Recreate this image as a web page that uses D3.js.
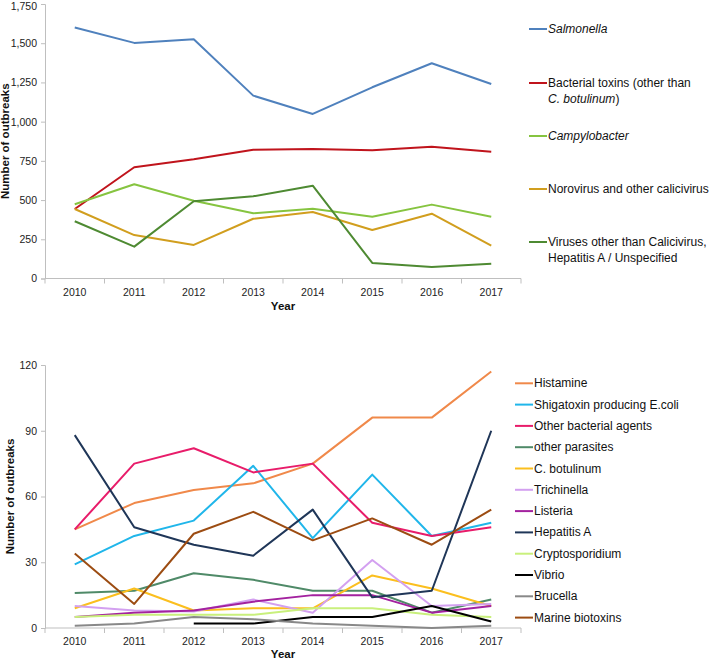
<!DOCTYPE html>
<html><head><meta charset="utf-8">
<script src="https://cdn.jsdelivr.net/npm/d3@7"></script>
<style>
body{margin:0;background:#fff;}
svg text{font-family:"Liberation Sans",Arial,sans-serif;}
</style></head>
<body><svg id="c" width="709" height="661"></svg>
<script>
const years = [2010,2011,2012,2013,2014,2015,2016,2017];

// Top chart
const topNames = ["Salmonella","Bacterial toxins (other than C. botulinum)","Campylobacter","Norovirus and other calicivirus","Viruses other than Calicivirus, Hepatitis A / Unspecified"];
const salmonella = [1600,1502,1525,1166,1049,1219,1372,1240];
const bacterialToxins = [443,709,760,821,826,817,840,808];
const campylobacter = [473,601,496,416,445,394,471,394];
const norovirus = [443,277,214,381,424,309,413,209];
const virusesOther = [365,203,492,524,592,99,73,94];
const topTicks = [0,250,500,750,1000,1250,1500,1750];

// Bottom chart
const botNames = ["Histamine","Shigatoxin producing E.coli","Other bacterial agents","other parasites","C. botulinum","Trichinella","Listeria","Hepatitis A","Cryptosporidium","Vibrio","Brucella","Marine biotoxins"];
const histamine = [45,57,63,66,75,96,96,117];
const shigatoxin = [29,42,49,74,41,70,42,48];
const otherBacterial = [45,75,82,71,75,48,42,46];
const otherParasites = [16,17,25,22,17,17,7,13];
const cBotulinum = [9,18,8,9,9,24,18,10];
const trichinella = [10,8,7.5,13,7,31,10,11];
const listeria = [5,7,8,12,15,15,7,10];
const hepatitisA = [88,46,38,33,54,14,17,90];
const cryptosporidium = [5,6,6,6,9,9,6,5];
const vibrio = [null,null,2,2,5,5,10,3];
const brucella = [1,2,5,4,2,1,0,1];
const marineBiotoxins = [34,11,43,53,40,50,38,54];
const botTicks = [0,30,60,90,120];

const topSeries = [salmonella,bacterialToxins,campylobacter,norovirus,virusesOther];
const topColors = ["#4f81bd","#c0141c","#86c440","#d19e1e","#4e8a32"];
const botSeries = [histamine,shigatoxin,otherBacterial,otherParasites,cBotulinum,trichinella,listeria,hepatitisA,cryptosporidium,vibrio,brucella,marineBiotoxins];
const botColors = ["#f0894a","#20b6ea","#e81c6a","#4f8a68","#fbbf1e","#d3a0f0","#a3229f","#1f3658","#c9f07c","#000000","#888888","#9c4c12"];

const svg = d3.select("#c");
const axisColor = "#bfbfbf";

function drawChart(cfg){
  const g = svg.append("g");
  const x = d3.scaleBand().domain(years).range([45,521]).padding(0);
  const y = d3.scaleLinear().domain(cfg.domain).range([cfg.y0,cfg.y1]);
  // x axis labels
  const xa = g.append("g").attr("transform",`translate(0,${cfg.y0})`)
    .call(d3.axisBottom(x).tickSize(0).tickPadding(10));
  xa.select(".domain").remove();
  xa.selectAll("text").attr("font-size",10.5).attr("fill","#222");
  // x axis line + boundary ticks
  g.append("line").attr("x1",45).attr("x2",521).attr("y1",cfg.y0).attr("y2",cfg.y0).attr("stroke",axisColor);
  const bounds = years.map(d=>x(d)).concat([x.range()[1]]);
  g.selectAll(".bt").data(bounds).join("line")
    .attr("x1",d=>d).attr("x2",d=>d).attr("y1",cfg.y0).attr("y2",cfg.y0+5).attr("stroke",axisColor);
  // y axis
  const ya = g.append("g").attr("transform","translate(45,0)")
    .call(d3.axisLeft(y).tickValues(cfg.ticks).tickSize(4).tickPadding(4).tickFormat(d3.format(",")));
  ya.select(".domain").attr("stroke",axisColor);
  ya.selectAll(".tick line").attr("stroke",axisColor);
  ya.selectAll("text").attr("font-size",10.5).attr("fill","#222")
    .attr("dy",d=>d===cfg.domain[1] && cfg.y1<10 ? "0.5em" : "0.32em");
  // titles
  g.append("text").attr("transform",`translate(${cfg.ytX},${(cfg.y0+cfg.y1)/2}) rotate(-90)`)
    .attr("text-anchor","middle").attr("font-size",11.5).attr("font-weight","bold").attr("fill","#111").text("Number of outbreaks");
  g.append("text").attr("x",283).attr("y",cfg.xtY).attr("text-anchor","middle")
    .attr("font-size",11.5).attr("font-weight","bold").attr("fill","#111").text("Year");
  // lines
  const line = d3.line().defined(d=>d!=null).x((d,i)=>x(years[i])+x.bandwidth()/2).y(d=>y(d));
  cfg.series.forEach((s,i)=>{
    g.append("path").datum(s).attr("d",line).attr("fill","none")
      .attr("stroke",cfg.colors[i]).attr("stroke-width",2).attr("stroke-linejoin","round");
  });
  return g;
}

drawChart({domain:[0,1750],y0:278.5,y1:4,ticks:topTicks,series:topSeries,colors:topColors,ytX:9,xtY:310});
drawChart({domain:[0,120],y0:628,y1:365,ticks:botTicks,series:botSeries,colors:botColors,ytX:14,xtY:658});

// Top legend
const topLeg = [
  {lines:[[{t:"Salmonella",i:true}]],y:29},
  {lines:[[{t:"Bacterial toxins (other than",i:false}],[{t:" C. botulinum",i:true},{t:")",i:false}]],y:83},
  {lines:[[{t:"Campylobacter",i:true}]],y:136},
  {lines:[[{t:"Norovirus and other calicivirus",i:false}]],y:189},
  {lines:[[{t:"Viruses other than Calicivirus,",i:false}],[{t:"Hepatitis A / Unspecified",i:false}]],y:242}
];
const tl = svg.append("g");
topLeg.forEach((d,k)=>{
  tl.append("line").attr("x1",529).attr("x2",547).attr("y1",d.y).attr("y2",d.y).attr("stroke",topColors[k]).attr("stroke-width",2);
  d.lines.forEach((ln,j)=>{
    const t = tl.append("text").attr("x",548).attr("y",d.y+4+j*15.5).attr("font-size",12).attr("fill","#111");
    ln.forEach(p=>t.append("tspan").attr("font-style",p.i?"italic":"normal").text(p.t));
  });
});
// Bottom legend
const bl = svg.append("g");
botNames.forEach((n,k)=>{
  const yy = 383.3 + k*21.3;
  bl.append("line").attr("x1",515).attr("x2",533).attr("y1",yy).attr("y2",yy).attr("stroke",botColors[k]).attr("stroke-width",2);
  bl.append("text").attr("x",534).attr("y",yy+4).attr("font-size",12).attr("fill","#111").text(n);
});
</script></body></html>
